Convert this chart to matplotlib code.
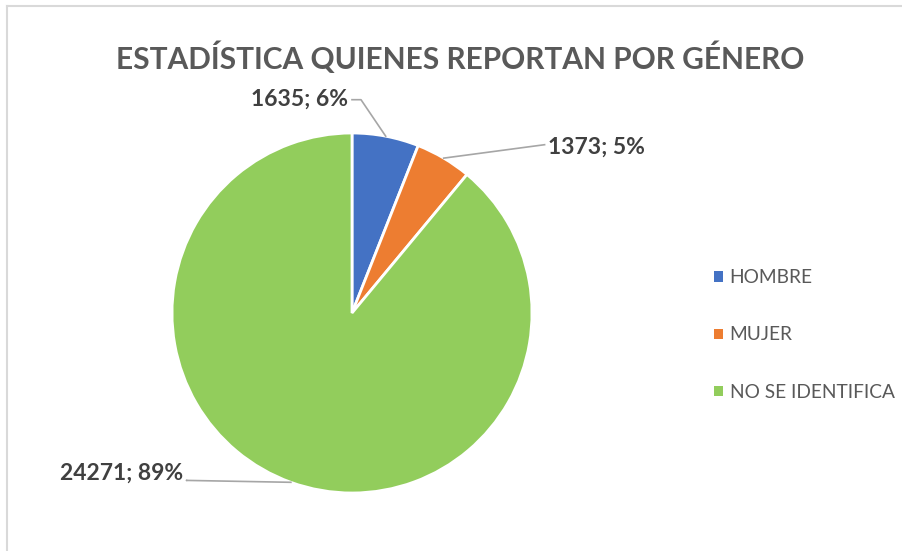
import numpy as np
import matplotlib.pyplot as plt
from matplotlib.patches import Patch
from matplotlib.lines import Line2D

plt.rcParams['font.family'] = ['Lato', 'DejaVu Sans']

categories = ['HOMBRE', 'MUJER', 'NO SE IDENTIFICA']
values = [1635, 1373, 24271]
percents = ['6%', '5%', '89%']
colors = ['#4472C4', '#ED7D31', '#92CD5C']

W, H = 903, 551
fig = plt.figure(figsize=(W / 100, H / 100), dpi=100)

# chart frame (light gray, Excel style)
fig.add_artist(Line2D([7 / W, 7 / W], [0, 1 - 6 / H], color='#d9d9d9', lw=1.5))
fig.add_artist(Line2D([7 / W, 1], [1 - 6 / H, 1 - 6 / H], color='#d9d9d9', lw=1.5))

cx, cy, r = 352, 313, 180
ax = fig.add_axes([(cx - r) / W, (H - cy - r) / H, 2 * r / W, 2 * r / H])
wedges, _ = ax.pie(values, colors=colors, startangle=90, counterclock=False,
                   wedgeprops=dict(edgecolor='white', linewidth=2))
ax.set_xlim(-1, 1)
ax.set_ylim(-1, 1)
ax.set_aspect('equal')
ax.axis('off')

fig.text(0.5 + 9 / W, 1 - 58 / H, 'ESTADÍSTICA QUIENES REPORTAN POR GÉNERO',
         ha='center', va='center', fontsize=21.5, fontweight='bold', color='#595959')

# labels with leader lines
label_pos = [(-0.02, 1.19, 'right'), (1.09, 0.92, 'left'), (-0.94, -0.89, 'right')]
elbow = [(0.05, 1.185), (1.07, 0.935), (-0.92, -0.93)]
for w, v, p, (tx, ty, ha), (ex, ey) in zip(wedges, values, percents, label_pos, elbow):
    ang = np.deg2rad((w.theta1 + w.theta2) / 2)
    px, py = np.cos(ang), np.sin(ang)
    ax.text(tx, ty, f'{v}; {p}', ha=ha, va='center', fontsize=16.5,
            fontweight='bold', color='#404040', clip_on=False)
    if ha == 'right':
        pts_x, pts_y = [tx + 0.02, ex, px], [ey, ey, py]
    else:
        pts_x, pts_y = [tx - 0.02, ex, px], [ey, ey, py]
    ax.plot(pts_x, pts_y, color='#a6a6a6', lw=1.2, clip_on=False)

handles = [Patch(facecolor=c, edgecolor='none') for c in colors]
fig.legend(handles, categories, loc='upper left', bbox_to_anchor=(697 / W, 1 - 252 / H),
           frameon=False, fontsize=13.8, labelcolor='#595959', handlelength=0.45,
           handleheight=0.45, handletextpad=0.35, labelspacing=2.1)

fig.savefig('out.png', dpi=100, facecolor='white')
